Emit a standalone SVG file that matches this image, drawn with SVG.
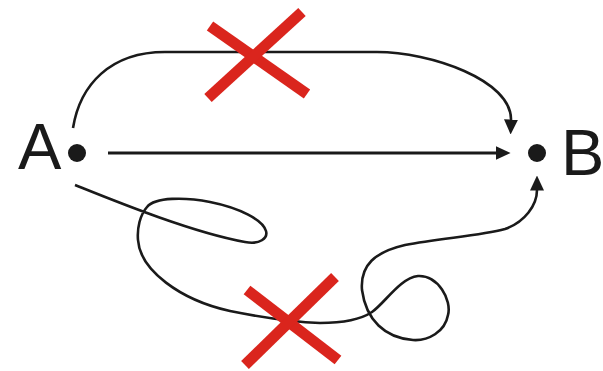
<svg xmlns="http://www.w3.org/2000/svg" width="603" height="371" viewBox="0 0 603 371">
  <style>
    .lbl { font-family: "Liberation Sans", Arial, sans-serif; font-size: 65px; fill: #1a1a1a; }
    .dot { fill: #1a1a1a; }
    .conn { fill: none; stroke: #1a1a1a; stroke-width: 2.6; stroke-linecap: butt; }
    .straight { stroke-width: 3.2; }
    .cross { stroke: #da251d; stroke-width: 11; stroke-linecap: butt; }
  </style>
  <defs>
    <marker id="arrow" viewBox="0 0 15 14" refX="0.5" refY="7" markerWidth="15" markerHeight="14" markerUnits="userSpaceOnUse" orient="auto">
      <path d="M0,0 L15,7 L0,14 z" fill="#1a1a1a"/>
    </marker>
  </defs>
  <rect width="603" height="371" fill="#ffffff"/>

  <g id="connectors">
    <path id="top-route" class="conn" marker-end="url(#arrow)" d="M73,128 C80,85 110,52 165,52 L377,52 C430,52 512,80 511,120"/>
    <path id="direct-route" class="conn straight" marker-end="url(#arrow)" d="M108,153 L496,153"/>
    <path id="bottom-route" class="conn" marker-end="url(#arrow)" d="M75,185 C110,199 190,232 245,242 C260,245 268,238 266,231 C263,220 240,208 210,202 C185,197 155,197 147,207 C140,215 137,228 138,240 C140,270 180,300 230,311 C260,317 290,322 320,323 C340,323 360,320 372,312 C385,303 400,278 418,276 C438,275 452,300 448,315 C445,332 428,341 413,340 C385,338 366,320 362,290 C360,265 375,252 405,245 C440,238 480,236 505,229 C525,222 537,205 537,190"/>
  </g>

  <g id="node-A">
    <circle class="dot" cx="77" cy="153" r="9"/>
    <text class="lbl" x="18" y="169">A</text>
  </g>
  <g id="node-B">
    <circle class="dot" cx="537" cy="153" r="9"/>
    <text class="lbl" x="561" y="175">B</text>
  </g>

  <g id="cross-top">
    <line class="cross" x1="210" y1="26" x2="307" y2="94"/>
    <line class="cross" x1="302" y1="12" x2="208" y2="98"/>
  </g>
  <g id="cross-bottom">
    <line class="cross" x1="247" y1="290" x2="338" y2="360"/>
    <line class="cross" x1="335" y1="277" x2="245" y2="365"/>
  </g>
</svg>
